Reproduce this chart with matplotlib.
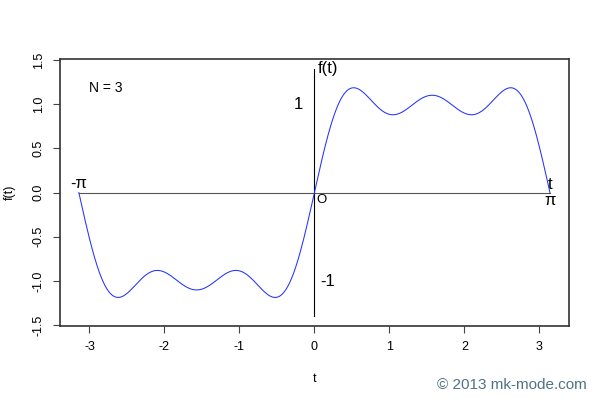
import numpy as np
import matplotlib
matplotlib.use("Agg")
import matplotlib.pyplot as plt

# Fourier partial sum of a square wave, N = 3 terms
n_terms = 3
harmonics = [1, 3, 5]
coefs = [4 / np.pi, 4 / (3 * np.pi), 4 / (5 * np.pi)]

t_range = [-np.pi, np.pi]
x_ticks = [-3, -2, -1, 0, 1, 2, 3]
y_ticks = [-1.5, -1.0, -0.5, 0.0, 0.5, 1.0, 1.5]
y_tick_labels = ["-1.5", "-1.0", "-0.5", "0.0", "0.5", "1.0", "1.5"]

t = np.linspace(t_range[0], t_range[1], 600)
f = np.zeros_like(t)
for n, c in zip(harmonics, coefs):
    f += c * np.sin(n * t)

plt.rcParams['font.family'] = ['Liberation Sans', 'DejaVu Sans']

fig = plt.figure(figsize=(6, 4), dpi=100)
ax = fig.add_axes([0.1, 0.185, 0.848, 0.667])

# coordinate axes inside the plot
ax.plot(t_range, [0, 0], color='#555555', lw=0.8)
ax.plot([0, 0], [-1.4, 1.4], color='black', lw=0.8)

ax.plot(t, f, color='#2233ff', lw=0.75)

ax.set_xlim(-np.pi * 1.08, np.pi * 1.08)
ax.set_ylim(-1.512, 1.512)
ax.set_xticks(x_ticks)
ax.set_xticklabels([str(v) for v in x_ticks])
ax.set_yticks(y_ticks)
ax.set_yticklabels(y_tick_labels, rotation=90, va='center')
ax.tick_params(labelsize=9, length=5, width=0.8, color='#444444', pad=6)
for s in ax.spines.values():
    s.set_color('#333333')
    s.set_linewidth(1.2)

ax.set_xlabel('t', fontsize=9, labelpad=14)
ax.set_ylabel('f(t)', fontsize=9, labelpad=12)

ax.text(-3.01, 1.19, f'N = {n_terms}', fontsize=10, ha='left', va='center')
ax.text(0.04, 1.41, 'f(t)', fontsize=12, ha='left', va='center')
ax.text(-0.22, 1.0, '1', fontsize=12, ha='center', va='center')
ax.text(0.18, -1.01, '-1', fontsize=12, ha='center', va='center')
ax.text(-np.pi, 0.1, '-π', fontsize=12, ha='center', va='center')
ax.text(np.pi, -0.09, 'π', fontsize=12, ha='center', va='center')
ax.text(np.pi, 0.09, 't', fontsize=12, ha='center', va='center')
ax.text(0.09, -0.08, 'O', fontsize=9.5, ha='center', va='center')

fig.text(0.978, 0.037, '© 2013 mk-mode.com', fontsize=11, color='#4f7385',
         ha='right', va='center')

fig.savefig('out.png', dpi=100)
